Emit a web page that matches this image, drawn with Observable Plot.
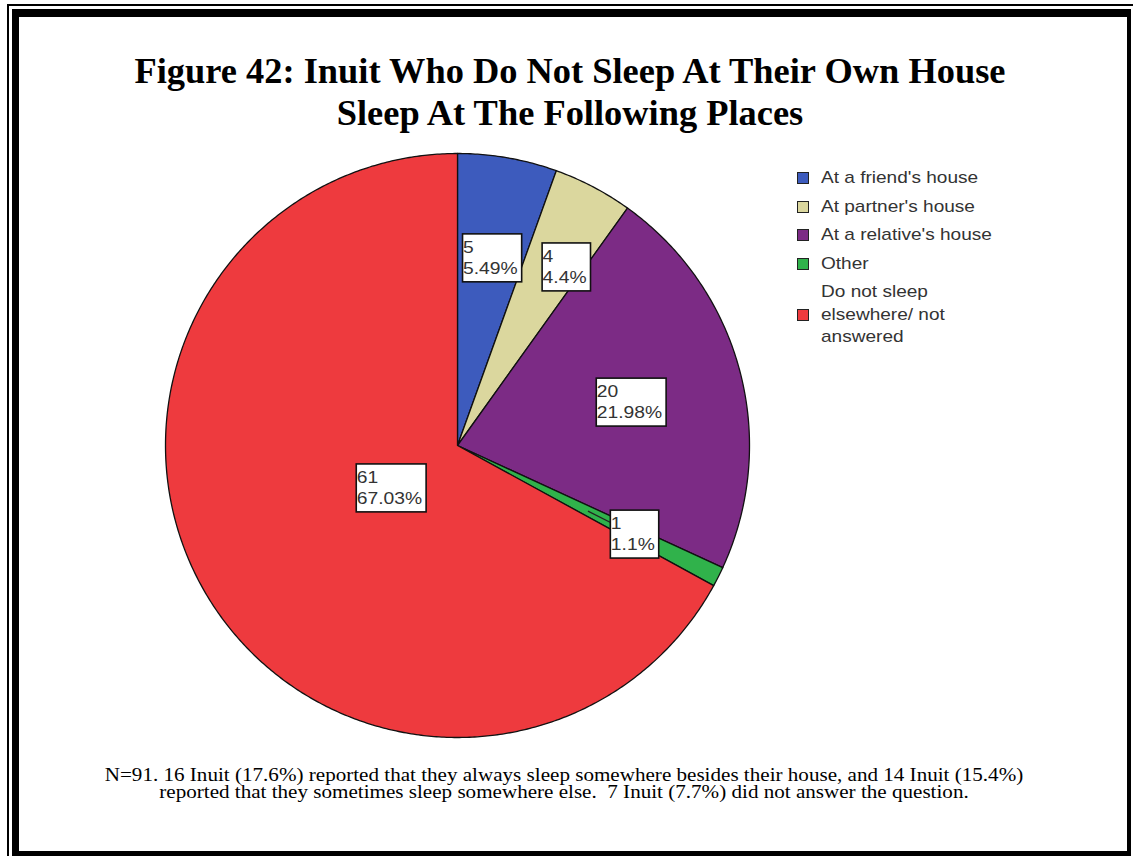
<!DOCTYPE html>
<html>
<head>
<meta charset="utf-8">
<script src="https://cdn.jsdelivr.net/npm/d3@7"></script>
<script src="https://cdn.jsdelivr.net/npm/@observablehq/plot@0.6"></script>
<style>
  html, body { margin: 0; padding: 0; background: #fff; width: 1133px; height: 856px; overflow: hidden; }
  #frame-outer { position: absolute; left: 7px; top: 4px; width: 1140px; height: 870px; border-left: 2px solid #000; border-top: 2px solid #000; }
  #frame-inner { position: absolute; left: 12px; top: 9px; width: 1108px; height: 834px; border-left: 7px solid #000; border-top: 8px solid #000; border-right: 4px solid #000; border-bottom: 5px solid #000; background: #fff; }
  #title { position: absolute; left: 0; width: 1140px; top: 51px; text-align: center; font-family: "Liberation Serif", "Times New Roman", serif; font-weight: bold; font-size: 35px; line-height: 42px; color: #000; transform: scaleX(1.04); transform-origin: 570px 0; }
  #chart { position: absolute; left: 163px; top: 151px; }
  #legend { position: absolute; left: 797px; top: 167px; font-family: "Liberation Sans", Arial, sans-serif; font-size: 17px; color: #333; }
  .item { position: relative; display: flex; align-items: center; margin-bottom: 6px; line-height: 22.5px; }
  .sw { width: 10px; height: 10px; border: 1.5px solid #222; margin-right: 12px; flex: none; }
  .tx { transform: scaleX(1.12); transform-origin: 0 0; white-space: nowrap; }
  #caption { position: absolute; left: 0; width: 1128px; top: 767px; text-align: center; font-family: "Liberation Serif", "Times New Roman", serif; font-size: 18.5px; line-height: 17px; color: #000; white-space: pre; transform: scaleX(1.14); transform-origin: 564px 0; }
</style>
</head>
<body>
<div id="frame-outer"></div>
<div id="frame-inner"></div>
<div id="title">Figure 42: Inuit Who Do Not Sleep At Their Own House<br>Sleep At The Following Places</div>
<div id="chart"></div>
<div id="legend"></div>
<div id="caption"></div>
<script>
// ---- data ----
const categories = ["At a friend's house", "At partner's house", "At a relative's house", "Other", "Do not sleep elsewhere/ not answered"];
const counts = [5, 4, 20, 1, 61];
const percents = ["5.49%", "4.4%", "21.98%", "1.1%", "67.03%"];
const colors = ["#3d5bbd", "#dbd79e", "#7c2b85", "#30b24b", "#ee3a3e"];
const legendLines = [["At a friend's house"], ["At partner's house"], ["At a relative's house"], ["Other"], ["Do not sleep", "elsewhere/ not", "answered"]];
const captionLines = [
  "N=91. 16 Inuit (17.6%) reported that they always sleep somewhere besides their house, and 14 Inuit (15.4%)",
  "reported that they sometimes sleep somewhere else.  7 Inuit (7.7%) did not answer the question."
];
// label placement (fraction of radius, angle nudge in degrees) and leader lines
const labelRadius = [0.66, 0.72, 0.61, 0.67, 0.27];
const labelNudge = [0, 3, 0, -0.5, 0];
const hasLeader = [false, false, false, true, false];

// ---- geometry from values ----
const arcs = d3.pie().sort(null).value(d => d)(counts);
const pts = [];
arcs.forEach((a, i) => {
  const key = categories[i];
  pts.push({key, x: 0, y: 0});
  const n = Math.max(2, Math.ceil((a.endAngle - a.startAngle) / (Math.PI / 360)));
  for (let k = 0; k <= n; k++) {
    const t = a.startAngle + (a.endAngle - a.startAngle) * k / n;
    pts.push({key, x: Math.sin(t), y: Math.cos(t)});
  }
});
const labels = arcs.map((a, i) => {
  const mid = (a.startAngle + a.endAngle) / 2;
  const m = mid + labelNudge[i] * Math.PI / 180;
  return {mid, i, x: labelRadius[i] * Math.sin(m), y: labelRadius[i] * Math.cos(m), text: counts[i] + "\n" + percents[i]};
});
const leaders = labels.filter(d => hasLeader[d.i]).map(d => ({
  x1: 0.5 * Math.sin(d.mid), y1: 0.5 * Math.cos(d.mid),
  x2: 0.6 * Math.sin(d.mid), y2: 0.6 * Math.cos(d.mid)
}));

const R = 292, M = 2;
const chart = Plot.plot({
  width: 2 * R + 2 * M,
  height: 2 * R + 2 * M,
  margin: M,
  x: {domain: [-1, 1], axis: null},
  y: {domain: [-1, 1], axis: null},
  color: {domain: categories, range: colors},
  marks: [
    Plot.line(pts, {x: "x", y: "y", z: "key", fill: "key", stroke: "#111", strokeWidth: 1.3, curve: "linear-closed"}),
    Plot.link(leaders, {x1: "x1", y1: "y1", x2: "x2", y2: "y2", stroke: "#222", strokeWidth: 1.2}),
    Plot.text(labels, {x: "x", y: "y", text: "text", textAnchor: "start", lineAnchor: "middle", fontSize: 16.5, lineHeight: 1.27, fill: "#333", fontFamily: "Liberation Sans, Arial, sans-serif"})
  ]
});
document.getElementById("chart").appendChild(chart);

// white boxes behind labels (text is slightly widened like the original)
const ns = "http://www.w3.org/2000/svg";
const sx = 1.17;
chart.querySelectorAll('g[aria-label="text"] text').forEach(t => {
  const b = t.getBBox();
  const tr = t.getAttribute("transform") || "";
  const g = document.createElementNS(ns, "g");
  g.setAttribute("transform", tr + ` translate(${-b.width * sx / 2 - b.x * sx},1)`);
  const r = document.createElementNS(ns, "rect");
  r.setAttribute("x", b.x * sx - 0.5);
  r.setAttribute("y", b.y - 4);
  r.setAttribute("width", b.width * sx + 4);
  r.setAttribute("height", b.height + 9);
  r.setAttribute("fill", "#fff");
  r.setAttribute("stroke", "#111");
  r.setAttribute("stroke-width", 1.6);
  g.appendChild(r);
  t.parentNode.insertBefore(g, t);
  t.removeAttribute("transform");
  const inner = document.createElementNS(ns, "g");
  inner.setAttribute("transform", `scale(${sx},1)`);
  g.appendChild(inner);
  inner.appendChild(t);
});

// legend
const leg = document.getElementById("legend");
legendLines.forEach((lines, i) => {
  const it = document.createElement("div");
  it.className = "item";
  const sw = document.createElement("div");
  sw.className = "sw";
  sw.style.background = colors[i];
  const tx = document.createElement("div");
  tx.className = "tx";
  tx.innerHTML = lines.join("<br>");
  it.appendChild(sw); it.appendChild(tx);
  leg.appendChild(it);
});
document.getElementById("caption").textContent = captionLines.join("\n");
</script>
</body>
</html>
